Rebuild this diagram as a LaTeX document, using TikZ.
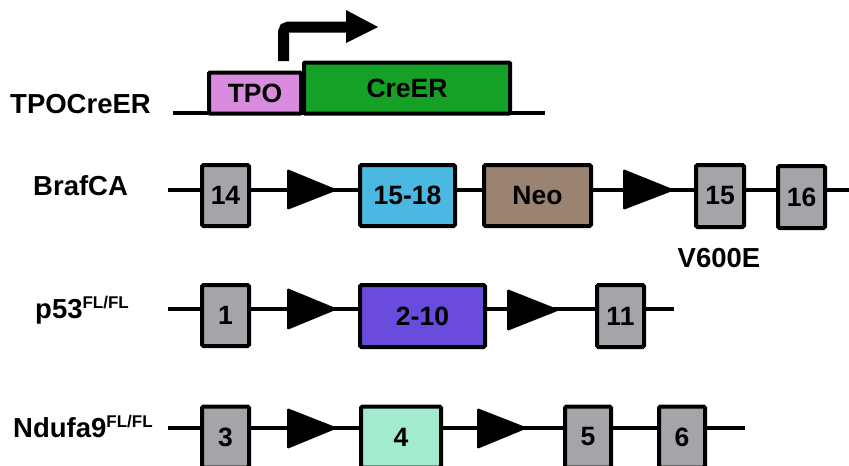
\documentclass[tikz,border=0pt]{standalone}
\usepackage{fontspec}
\setmainfont{Liberation Sans}
\definecolor{exgray}{HTML}{A5A4A9}
\definecolor{tpopink}{HTML}{D98BE0}
\definecolor{cregreen}{HTML}{15A126}
\definecolor{exblue}{HTML}{4AB8E0}
\definecolor{neobrown}{HTML}{9A8371}
\definecolor{expurple}{HTML}{6A4CDC}
\definecolor{exmint}{HTML}{A2EBCF}
\newcommand{\boxfont}{\fontsize{26.5}{30}\selectfont\bfseries}
\newcommand{\labfont}{\fontsize{27.5}{32}\selectfont\bfseries}
\newcommand{\supfont}{\fontsize{17}{20}\selectfont\bfseries}
\tikzset{
  backbone/.style={line width=4pt},
  exon/.style={draw=black, line width=4pt, rounded corners=1.5pt, inner sep=0pt, font=\boxfont, text=black},
  loxp/.style={fill=black, rounded corners=1.5pt},
  rowlabel/.style={anchor=base west, inner sep=0pt, font=\labfont},
}
\begin{document}
\begin{tikzpicture}[x=1pt, y=-1pt]
\useasboundingbox (0,0) rectangle (849,466);
% ---------- TPOCreER ----------
\coordinate (s1) at (173,113);
\coordinate (f1) at (545,113);
\draw[backbone] (s1) -- (f1);
\node[exon, fill=tpopink, minimum width=92pt, minimum height=41pt, rounded corners=1pt] (tpo) at (255,93) {TPO};
\node[exon, fill=cregreen, minimum width=206pt, minimum height=51pt, rounded corners=1pt] (cre) at (407,88) {CreER};
\node[rowlabel] (lab1) at (10,113) {TPOCreER};
\coordinate (pa) at (283.5,61);
\coordinate (pb) at (283.5,27);
\coordinate (pc) at (348,27);
\draw[line width=11pt, rounded corners=5pt] (pa) -- (pb) -- (pc);
\fill (346,10) -- (378,27) -- (346,43) -- cycle;
% ---------- BrafCA ----------
\coordinate (s2) at (168,190);
\coordinate (f2) at (851,190);
\draw[backbone] (s2) -- (f2);
\node[exon, fill=exgray, minimum width=47pt, minimum height=61pt] (b14) at (225.5,195.5) {14};
\fill[loxp] (287,169) -- (338,190) -- (287,210) -- cycle;
\node[exon, fill=exblue, minimum width=95pt, minimum height=61pt] (b1518) at (407.5,195.5) {15-18};
\node[exon, fill=neobrown, minimum width=107pt, minimum height=61pt] (neo) at (537.5,195.5) {Neo};
\fill[loxp] (623,169) -- (675,190) -- (623,210) -- cycle;
\node[exon, fill=exgray, minimum width=48pt, minimum height=62pt] (b15) at (720,196) {15};
\node[exon, fill=exgray, minimum width=47pt, minimum height=62pt] (b16) at (801.5,197) {16};
\node[anchor=center, inner sep=0pt, font=\labfont] (v600e) at (719,258) {V600E};
\node[rowlabel] (lab2) at (33,195) {BrafCA};
% ---------- p53 ----------
\coordinate (s3) at (168,309);
\coordinate (f3) at (674,309);
\draw[backbone] (s3) -- (f3);
\node[exon, fill=exgray, minimum width=47pt, minimum height=61pt] (p1) at (225.5,315.5) {1};
\fill[loxp] (287,288) -- (338,309) -- (287,330) -- cycle;
\node[exon, fill=expurple, minimum width=125pt, minimum height=62pt] (p210) at (422.5,316) {2-10};
\fill[loxp] (507,289) -- (560,310) -- (507,331) -- cycle;
\node[exon, fill=exgray, minimum width=47pt, minimum height=62pt] (p11) at (620.5,316) {11};
\node[rowlabel] (lab3) at (35,318) {p53\raisebox{10pt}{\supfont FL/FL}};
% ---------- Ndufa9 ----------
\coordinate (s4) at (168,428);
\coordinate (f4) at (745,428);
\draw[backbone] (s4) -- (f4);
\node[exon, fill=exgray, minimum width=47pt, minimum height=61pt] (n3) at (225.5,437) {3};
\fill[loxp] (287,408) -- (338,428) -- (287,449) -- cycle;
\node[exon, fill=exmint, minimum width=80pt, minimum height=61pt] (n4) at (401,437) {4};
\fill[loxp] (477,408) -- (528,428) -- (477,449) -- cycle;
\node[exon, fill=exgray, minimum width=46pt, minimum height=61pt] (n5) at (588,437) {5};
\node[exon, fill=exgray, minimum width=46pt, minimum height=61pt] (n6) at (682,437) {6};
\node[rowlabel] (lab4) at (13,437) {Ndufa9\raisebox{10pt}{\supfont FL/FL}};
\end{tikzpicture}
\end{document}
